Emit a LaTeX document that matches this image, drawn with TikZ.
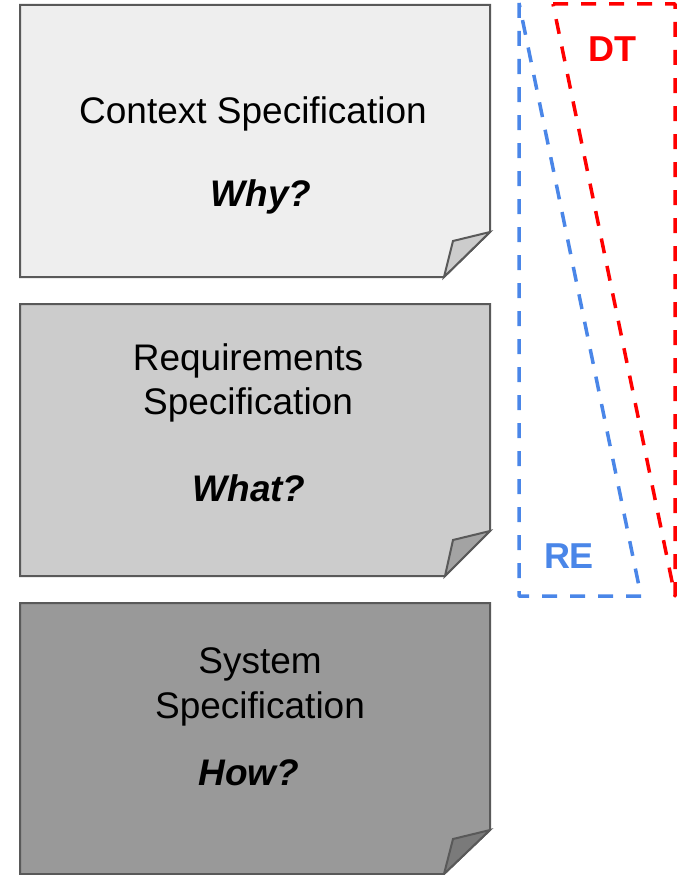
\documentclass[tikz,border=0pt]{standalone}
\usepackage{fontspec}
\setmainfont{Liberation Sans}
\definecolor{bordergray}{HTML}{595959}
\definecolor{fillA}{HTML}{EEEEEE}
\definecolor{fillB}{HTML}{CCCCCC}
\definecolor{fillC}{HTML}{999999}
\definecolor{flapA}{HTML}{CCCCCC}
\definecolor{flapB}{HTML}{A3A3A3}
\definecolor{flapC}{HTML}{7A7A7A}
\definecolor{reblue}{HTML}{4A86E8}
\definecolor{dtred}{HTML}{FF0000}
\begin{document}
\begin{tikzpicture}[x=1pt,y=-1pt,
  page/.style={draw=bordergray,line width=2pt,line join=miter},
  txt/.style={anchor=base,inner sep=0pt,font=\fontsize{37}{45}\selectfont},
  qtxt/.style={txt,font=\fontsize{37}{45}\selectfont\bfseries\itshape},
  tag/.style={anchor=base,inner sep=0pt,font=\fontsize{36}{44}\selectfont\bfseries},
  dashline/.style={line width=3.5pt,line join=round,dash pattern=on 15pt off 13pt}]
\useasboundingbox (0,0) rectangle (683,875);
% page 1
\draw[page,fill=fillA] (20,5) -- (490,5) -- (490,232) -- (444,277) -- (20,277) -- cycle;
\draw[page,fill=flapA] (444,277) -- (453,241) -- (490,232) -- cycle;
% page 2
\draw[page,fill=fillB] (20,304) -- (490,304) -- (490,531) -- (445,576) -- (20,576) -- cycle;
\draw[page,fill=flapB] (445,576) -- (453,540) -- (490,531) -- cycle;
% page 3
\draw[page,fill=fillC] (20,603) -- (490,603) -- (490,830) -- (444,874) -- (20,874) -- cycle;
\draw[page,fill=flapC] (444,874) -- (453,839) -- (490,830) -- cycle;
% texts
\node[txt] (c1) at (253,123) {Context Specification};
\node[qtxt] (q1) at (261,206) {Why?};
\node[txt] (r1) at (248,370) {Requirements};
\node[txt] (r2) at (248,414) {Specification};
\node[qtxt] (q2) at (249,501) {What?};
\node[txt] (s1) at (260,673) {System};
\node[txt] (s2) at (260,718) {Specification};
\node[qtxt] (q3) at (249,785) {How?};
% dashed triangles
\draw[dashline,draw=reblue] (519,3) -- (519,596) -- (641,596) -- cycle;
\draw[dashline,draw=dtred] (553,4) -- (675,4) -- (675,596) -- cycle;
\node[tag,text=dtred] (dt) at (612,62) {DT};
\node[tag,text=reblue] (re) at (569,568) {RE};
\end{tikzpicture}
\end{document}
